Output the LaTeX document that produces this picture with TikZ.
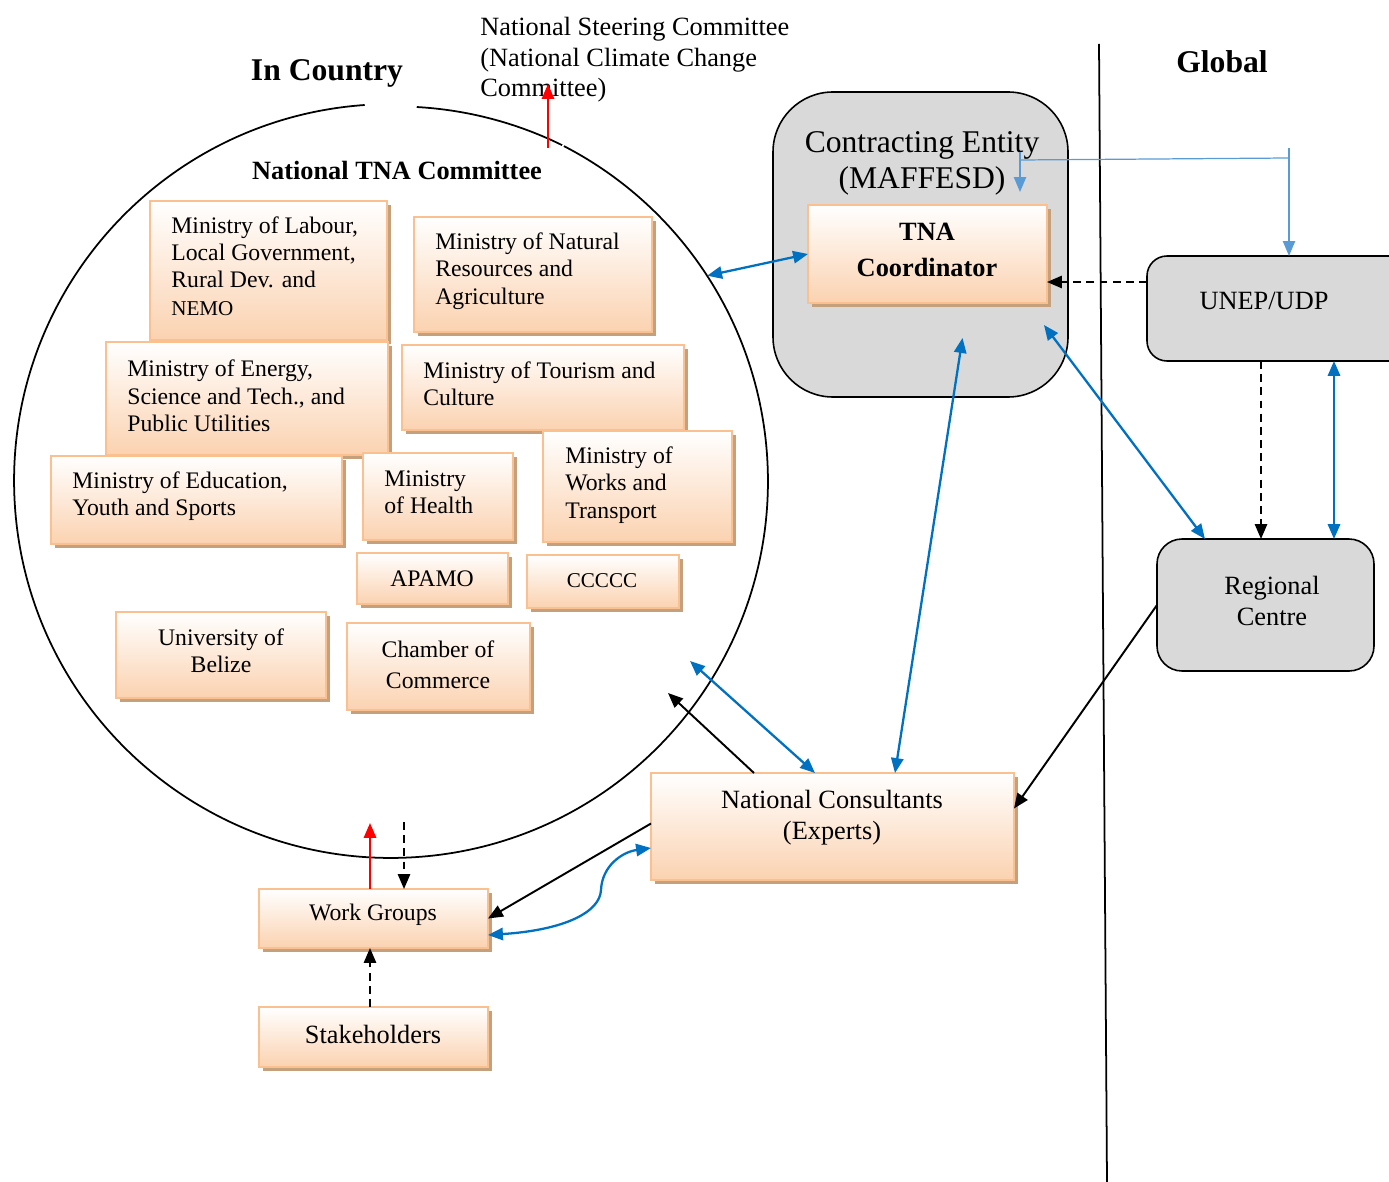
\documentclass[tikz,border=0pt]{standalone}
\usepackage{fontspec}
\setmainfont{Liberation Serif}
\usetikzlibrary{arrows.meta,calc,fit,shadows}
\definecolor{peach}{RGB}{251,210,176}
\definecolor{orangeb}{RGB}{250,192,144}
\definecolor{shadowb}{RGB}{196,160,124}
\definecolor{grayf}{RGB}{217,217,217}
\definecolor{bluec}{RGB}{0,112,192}
\definecolor{lblue}{RGB}{91,155,213}
\definecolor{redc}{RGB}{255,0,0}
\newcommand\tsz[2]{\fontsize{#1}{#2}\selectfont}
\begin{document}
\begin{tikzpicture}[x=0.02cm,y=-0.02cm,
  obox/.style={draw=orangeb, line width=1.3pt, top color=white, bottom color=peach,
    general shadow={fill=shadowb, shadow xshift=2.3pt, shadow yshift=-2.3pt},
    inner sep=0pt, outer sep=0pt},
  gbox/.style={draw=black, line width=0.9pt, fill=grayf, inner sep=0pt, outer sep=0pt},
  txt/.style={inner sep=0pt, align=left, font=\tsz{13.5}{15.6}},
  ctxt/.style={inner sep=0pt, align=center, font=\tsz{13.5}{15.6}},
  tip/.style={-{Triangle[length=8.5pt,width=7pt]}},
  btip/.style={{Triangle[length=8.5pt,width=7pt]}-{Triangle[length=8.5pt,width=7pt]}},
  blk/.style={line width=1.1pt, tip},
  dsh/.style={line width=1.1pt, tip, dash pattern=on 4.5pt off 3pt},
  bluarr/.style={draw=bluec, fill=bluec, line width=1.3pt, btip},
  redarr/.style={draw=redc, fill=redc, line width=1.2pt, tip},
  lbl/.style={draw=lblue, line width=0.7pt},
]
\useasboundingbox (0,0) rectangle (1389,1182);

% headings
\node[inner sep=0pt, font=\bfseries\tsz{18}{20}] (incountry) at (327,73) {In Country};
\node[inner sep=0pt, font=\bfseries\tsz{18}{20}] (global) at (1222,62) {Global};
\node[inner sep=0pt, anchor=west, align=left, font=\tsz{15}{17.3}] (nsc) at (480,60)
  {National Steering Committee\\(National Climate Change\\Committee)};

% divider
\draw[line width=1pt] (1099,44) -- (1107,1182);

% circle (with two small gaps, as in the original)
\node[circle, minimum size=15.08cm, inner sep=0pt, outer sep=0pt] (circ) at (391,481) {};
\draw[line width=1pt] (circ.63.8) arc[start angle=63.8, end angle=86.8, radius=7.54cm];
\draw[line width=1pt] (circ.94) arc[start angle=94, end angle=422.7, radius=7.54cm];
\node[inner sep=0pt, font=\bfseries\tsz{15}{17}] (tnacom) at (397,170) {National TNA Committee};

% orange boxes
\node[obox, fit={(150,201)(387,340)}] (lab) {};
\node[txt, anchor=west] (labt) at (171,266) {Ministry of Labour,\\Local Government,\\Rural Dev. and\\{\tsz{12}{15.6}NEMO}};
\node[obox, fit={(414,217)(652,332)}] (nat) {};
\node[txt, anchor=west] (natt) at (435,271) {Ministry of Natural\\Resources and\\Agriculture};
\node[obox, fit={(106,342)(388,455)}] (ene) {};
\node[txt, anchor=west] (enet) at (127,396) {Ministry of Energy,\\Science and Tech., and\\Public Utilities};
\node[obox, fit={(402,345)(684,430)}] (tou) {};
\node[txt, anchor=west] (tout) at (423,384) {Ministry of Tourism and\\Culture};
\node[obox, fit={(51,456)(342,544)}] (edu) {};
\node[txt, anchor=west] (edut) at (72,496) {Ministry of Education,\\Youth and Sports};
\node[obox, fit={(363,453)(513,540)}] (hea) {};
\node[txt, anchor=west] (heat) at (384,492) {Ministry\\of Health};
\node[obox, fit={(543,431)(732,542)}] (wor) {};
\node[txt, anchor=west] (wort) at (565,485) {Ministry of\\Works and\\Transport};
\node[obox, fit={(357,553)(508,604)}] (apa) {};
\node[ctxt] (apat) at (432,579) {APAMO};
\node[obox, fit={(527,555)(679,608)}] (ccc) {};
\node[ctxt, font=\tsz{12}{14}] (ccct) at (602,581) {CCCCC};
\node[obox, fit={(116,612)(326,698)}] (uni) {};
\node[ctxt] (unit) at (221,651) {University of\\Belize};
\node[obox, fit={(347,623)(530,710)}] (cha) {};
\node[ctxt, font=\tsz{13.5}{17.6}] (chat) at (438,665) {Chamber of\\Commerce};

% contracting entity
\node[gbox, rounded corners=1.2cm, fit={(773,92)(1068,397)}] (ce) {};
\node[ctxt, font=\tsz{18}{20.4}] (cet) at (922,163) {Contracting Entity\\(MAFFESD)};
\node[obox, fit={(808,205)(1047,303)}] (tna) {};
\node[ctxt, font=\bfseries\tsz{15}{20.4}] (tnat) at (927,250) {TNA\\Coordinator};

% global boxes
\node[gbox, rounded corners=0.4cm, fit={(1147,256)(1410,361)}] (un) {};
\node[ctxt, font=\tsz{15}{17}] (unt) at (1264,301) {UNEP/UDP};
\node[gbox, rounded corners=0.5cm, fit={(1157,539)(1374,671)}] (rc) {};
\node[ctxt, font=\tsz{15}{17.2}] (rct) at (1272,601) {Regional\\Centre};

% lower boxes
\node[obox, fit={(651,773)(1014,880)}] (con) {};
\node[ctxt, font=\tsz{15}{17.6}] (cont) at (832,818) {National Consultants\\(Experts)};
\node[obox, fit={(259,889)(488,948)}] (wg) {};
\node[ctxt] (wgt) at (373,915) {Work Groups};
\node[obox, fit={(259,1007)(488,1067)}] (sta) {};
\node[ctxt, font=\tsz{15}{17}] (stat) at (373,1034) {Stakeholders};

% free ends
\coordinate (nscbase) at (548,148);
\coordinate (nsctip) at (548,84);
\coordinate (c1) at (690,661);
\coordinate (c2) at (668,693);
\coordinate (c3) at (370,823);
\coordinate (c4) at (404,822);
\coordinate (lb1) at (1020,152);
\coordinate (lb2) at (1289,148);

% connectors
\draw[redarr] (nscbase) -- (nsctip);
\draw[bluarr] (circ.33.8) -- (tna.west);
\draw[lbl, tip] (lb1) -- ($(lb1)+(0,40)$);
\draw[lbl] ($(lb1)+(0,8)$) -- ($(lb2)+(0,10)$);
\draw[lbl, tip] (lb2) -- (lb2 |- un.north);
\draw[dsh] (un.west |- 0,282) -- (tna.east |- 0,282);
\draw[bluarr] ($(tna.south east)+(-3,22)$) -- ($(rc.north west)+(48,0)$);
\draw[bluarr] ($(tna.south)+(35,35)$) -- (895,0 |- con.north);
\draw[dsh] (1261,0 |- un.south) -- (1261,0 |- rc.north);
\draw[bluarr] (1334,0 |- un.south) -- (1334,0 |- rc.north);
\draw[blk] (rc.west) -- ($(con.east)+(0,-18)$);
\draw[bluarr] (c1) -- (815,0 |- con.north);
\draw[blk] (754,0 |- con.north) -- (c2);
\draw[blk] ($(con.west)+(0,-3)$) -- (wg.east);
\draw[draw=bluec, line width=1.3pt, btip] (wg.east |- 0,935) .. controls (565,930) and (600,912) .. (601,890)
  .. controls (602,866) and (622,852) .. (con.west |- 0,848);
\draw[redarr] (370,0 |- wg.north) -- (c3);
\draw[dsh] (c4) -- (404,0 |- wg.north);
\draw[dsh] (370,0 |- sta.north) -- (370,0 |- wg.south);
\end{tikzpicture}
\end{document}
